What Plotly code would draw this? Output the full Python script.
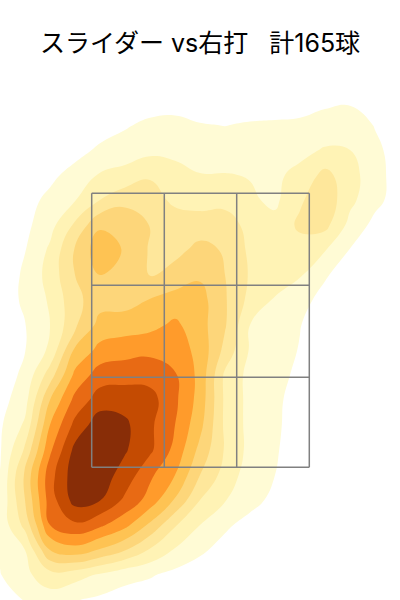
import plotly.graph_objects as go

title_text = "スライダー vs右打\u00a0\u00a0\u00a0計165球"

grid_x = [-25, 0, 25, 50, 75, 100, 125, 150, 175, 200, 225, 250, 275, 300, 325, 350, 375, 400]
grid_y = [75, 100, 125, 150, 175, 200, 225, 250, 275, 300, 325, 350, 375, 400, 425, 450, 475, 500, 525, 550, 575, 600, 625]

density_rows = [
    [0, 0, 0, 0, 0, 0, 0, 0.1, 0.1, 0.1, 0.1, 0.1, 0.1, 0.1, 0.1, 0.2, 0.1, 0],
    [0, 0, 0, 0, 0, 0, 0.1, 0.5, 0.6, 0.5, 0.45, 0.5, 0.6, 0.7, 0.8, 0.85, 0.5, 0],
    [0, 0, 0, 0.1, 0.3, 0.6, 0.9, 1.2, 1.25, 1.05, 0.98, 1.08, 1.1, 1.12, 1.35, 1.5, 0.95, 0.2],
    [0, 0, 0.1, 0.4, 0.7, 1.15, 1.4, 1.7, 1.7, 1.4, 1.4, 1.4, 1.5, 1.7, 2.1, 2, 1.2, 0.6],
    [0, 0.1, 0.4, 0.8, 1.3, 2.1, 2.4, 2.9, 2.4, 2.05, 2.05, 1.95, 1.8, 2.3, 3.3, 2.4, 1.4, 0.5],
    [0, 0.2, 0.7, 1.2, 1.95, 3, 3.6, 3.4, 2.8, 2.6, 2.8, 2.15, 1.8, 2.85, 3.7, 2.25, 1.3, 0.5],
    [0, 0.35, 0.75, 1.65, 3.17, 4.85, 4.95, 3.95, 3.5, 3.5, 3.3, 2.8, 2.3, 3.2, 3.3, 1.7, 0.7, 0.2],
    [0.1, 0.4, 0.97, 2.17, 4.1, 5.6, 4.9, 3.9, 3.7, 4.3, 3.9, 2.8, 2.6, 2.55, 2.05, 0.95, 0.3, 0],
    [0.1, 0.5, 1.13, 2.4, 4, 5, 4.6, 3.97, 4.4, 4.85, 4, 2.9, 2.5, 2.1, 1.1, 0.5, 0.1, 0],
    [0.1, 0.6, 1.13, 2.14, 3.7, 4.6, 4.6, 5.05, 5.4, 5.4, 4.1, 2.7, 1.9, 1.3, 0.7, 0.2, 0, 0],
    [0.1, 0.5, 0.97, 2, 3.8, 5.35, 5.5, 5.7, 6.2, 5.4, 4.1, 2, 1.4, 1.03, 0.5, 0.1, 0, 0],
    [0.1, 0.45, 0.97, 2.2, 5.17, 6.3, 6.6, 6.75, 6.5, 5.7, 3.7, 1.9, 1.4, 0.95, 0.4, 0, 0, 0],
    [0.1, 0.4, 1.25, 3.5, 6.25, 7.5, 7.6, 7.6, 7.1, 5.7, 2.8, 1.7, 1.3, 0.8, 0.2, 0, 0, 0],
    [0.2, 0.6, 1.63, 5, 7.3, 8.5, 8.6, 8.4, 7.2, 5.6, 2.8, 1.7, 1.2, 0.6, 0.1, 0, 0, 0],
    [0.2, 0.85, 2.17, 6, 8.3, 9.6, 9.2, 8.2, 7, 5.3, 2.8, 1.7, 1.15, 0.6, 0.1, 0, 0, 0],
    [0.3, 0.9, 3.17, 6.8, 9.3, 9.8, 9.1, 8.2, 6.7, 4.7, 2.9, 1.7, 1.1, 0.5, 0.05, 0, 0, 0],
    [0.4, 1.02, 4.2, 7.6, 9.6, 9.5, 8.6, 7.2, 6, 4, 2.6, 1.5, 1, 0.4, 0, 0, 0, 0],
    [0.6, 1.15, 4, 7.5, 9.4, 9.05, 7.8, 6.6, 4.9, 3, 2.05, 1.4, 0.7, 0.2, 0, 0, 0, 0],
    [0.7, 1.3, 3.3, 7, 7.8, 7.2, 6.3, 4.8, 3.1, 2, 1.2, 0.6, 0.2, 0, 0, 0, 0, 0],
    [0.6, 1.15, 2, 5, 5.6, 4.9, 4.05, 2.9, 1.9, 1.2, 0.6, 0.3, 0, 0, 0, 0, 0, 0],
    [0.4, 0.95, 1.75, 2.6, 2.4, 1.85, 1.3, 1.1, 0.7, 0.4, 0.1, 0, 0, 0, 0, 0, 0, 0],
    [0.2, 0.4, 1.05, 1.5, 1.05, 0.8, 0.6, 0.4, 0.2, 0, 0, 0, 0, 0, 0, 0, 0, 0],
    [0.05, 0.2, 0.5, 0.7, 0.5, 0.3, 0.2, 0.1, 0, 0, 0, 0, 0, 0, 0, 0, 0, 0],
]

band_colors = ["#ffffff", "#fffbd5", "#fff3b5", "#fee79b", "#fdd67a",
               "#fec353", "#ff9b2b", "#e86a14", "#c44b02", "#882d07"]

zone_x = [91.7, 164.3, 236.7, 309.3]
zone_y = [193.3, 285.3, 377.3, 467.3]
zone_color = "#808080"

n = len(band_colors)
colorscale = []
for i, c in enumerate(band_colors):
    colorscale.append([i / n, c])
    colorscale.append([(i + 1) / n, c])

fig = go.Figure()
fig.add_trace(go.Contour(
    x=grid_x, y=grid_y, z=density_rows,
    zmin=0, zmax=n, colorscale=colorscale, showscale=False,
    autocontour=False,
    contours=dict(start=1, end=9, size=1, coloring="fill", showlines=False),
    line=dict(width=0, smoothing=1.3),
    hoverinfo="skip",
))

line_x, line_y = [], []
for x in zone_x:
    line_x += [x, x, None]
    line_y += [zone_y[0], zone_y[-1], None]
for y in zone_y:
    line_x += [zone_x[0], zone_x[-1], None]
    line_y += [y, y, None]
fig.add_trace(go.Scatter(x=line_x, y=line_y, mode="lines",
                         line=dict(color=zone_color, width=1.5),
                         hoverinfo="skip", showlegend=False))

fig.update_layout(
    width=400, height=600,
    margin=dict(l=0, r=0, t=0, b=0),
    paper_bgcolor="white", plot_bgcolor="white",
    showlegend=False,
    xaxis=dict(range=[0, 400], visible=False, fixedrange=True),
    yaxis=dict(range=[600, 0], visible=False, fixedrange=True),
    title=dict(text=title_text, x=0.5, xanchor="center", y=1 - 43 / 600, yanchor="middle",
               font=dict(family="Inter, Noto Sans CJK JP, sans-serif", size=25, color="#000000")),
)

fig.write_html("out.html", config=dict(displayModeBar=False),
               post_script="document.body.style.margin='0';")
